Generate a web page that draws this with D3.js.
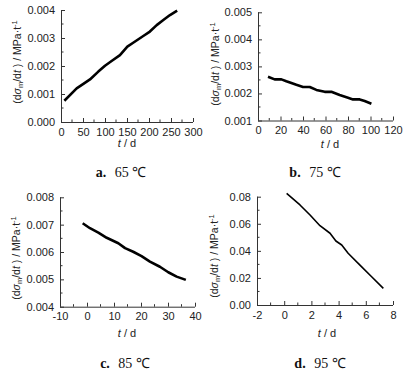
<!DOCTYPE html>
<html>
<head>
<meta charset="utf-8">
<script src="https://cdn.jsdelivr.net/npm/d3@7"></script>
<style>
  body { margin: 0; background: #fff; }
  svg { display: block; }
  .tick text { font-family: "Liberation Sans", Arial, sans-serif; font-size: 11px; fill: #222; }
</style>
</head>
<body>
<div id="chart"></div>
<script>
// values
var tA = [7.6, 35.6, 50.8, 65.9, 84.8, 100, 115, 134, 150.8, 164, 187, 202, 217.5, 232.6, 247.7, 264];
var vA = [0.00076, 0.0012, 0.00136, 0.00152, 0.0018, 0.00201, 0.00218, 0.00239, 0.00269, 0.00283, 0.00307, 0.00323, 0.00346, 0.00364, 0.00382, 0.00398];

var tB = [8.9, 14.8, 20.8, 25.2, 34.1, 40, 46, 51.9, 59.3, 65.2, 72.6, 80, 84.4, 90.4, 94.8, 100.8];
var vB = [0.00262, 0.00252, 0.00252, 0.00245, 0.00232, 0.00224, 0.00224, 0.00213, 0.00206, 0.00206, 0.00194, 0.00184, 0.00178, 0.00178, 0.00172, 0.00162];

var tC = [-1.6, 1.1, 4.2, 7.3, 11.6, 14.1, 17.1, 20.2, 23.3, 27, 30.1, 33.2, 36.6];
var vC = [0.00705, 0.00687, 0.00671, 0.00652, 0.00632, 0.00614, 0.00601, 0.00585, 0.00565, 0.00546, 0.00526, 0.0051, 0.00498];

var tD = [0.18, 1.16, 1.9, 2.63, 3.37, 3.8, 4.23, 4.7, 5.57, 6.43, 7.29];
var vD = [0.0825, 0.0739, 0.0665, 0.0586, 0.053, 0.0473, 0.0443, 0.0382, 0.0295, 0.0209, 0.0123];

var xTicksA = [0, 50, 100, 150, 200, 250, 300];
var yTicksA = [0, 0.001, 0.002, 0.003, 0.004];
var xTicksB = [0, 20, 40, 60, 80, 100, 120];
var yTicksB = [0.001, 0.002, 0.003, 0.004, 0.005];
var xTicksC = [-10, 0, 10, 20, 30, 40];
var yTicksC = [0.004, 0.005, 0.006, 0.007, 0.008];
var xTicksD = [-2, 0, 2, 4, 6, 8];
var yTicksD = [0, 0.02, 0.04, 0.06, 0.08];

var captions = ["a.", "b.", "c.", "d."];
var temps = ["65 ℃", "75 ℃", "85 ℃", "95 ℃"];

var svg = d3.select("#chart").append("svg")
  .attr("width", 408)
  .attr("height", 371);

// plain hyphen for negatives, like the original
function fmt(spec) {
  var f = d3.format(spec);
  return function(d) { return f(d).replace("\u2212", "-"); };
}

// one panel: axes box in pixels, data, ticks
function panel(o) {
  var x = d3.scaleLinear().domain([o.xTicks[0], o.xTicks[o.xTicks.length - 1]]).range([o.x0, o.x1]);
  var y = d3.scaleLinear().domain([o.yTicks[0], o.yTicks[o.yTicks.length - 1]]).range([o.y0, o.y1]);
  var g = svg.append("g");

  // minor ticks halfway between majors
  var xMinor = [], yMinor = [];
  var xs = (o.xTicks[1] - o.xTicks[0]) / 2, ys = (o.yTicks[1] - o.yTicks[0]) / 2;
  for (var i = 0; i < o.xTicks.length - 1; i++) xMinor.push(o.xTicks[i] + xs);
  for (var j = 0; j < o.yTicks.length - 1; j++) yMinor.push(o.yTicks[j] + ys);

  var xg = g.append("g").attr("transform", "translate(0," + o.y0 + ")")
    .call(d3.axisBottom(x).tickValues(o.xTicks).tickSize(-4).tickPadding(6).tickFormat(fmt("d")));
  xg.append("g").selectAll("line").data(xMinor).enter().append("line")
    .attr("x1", x).attr("x2", x).attr("y1", 0).attr("y2", -2.5).attr("stroke", "#333");

  var yg = g.append("g").attr("transform", "translate(" + o.x0 + ",0)")
    .call(d3.axisLeft(y).tickValues(o.yTicks).tickSize(-4).tickPadding(6).tickFormat(fmt(o.yFmt)));
  yg.append("g").selectAll("line").data(yMinor).enter().append("line")
    .attr("y1", y).attr("y2", y).attr("x1", 0).attr("x2", 2.5).attr("stroke", "#333");

  g.selectAll(".domain").attr("stroke", "#333");
  xg.select(".domain").attr("d", "M" + o.x0 + ",0.5H" + o.x1);
  yg.select(".domain").attr("d", "M0.5," + o.y0 + "V" + o.y1);
  g.selectAll(".tick line").attr("stroke", "#333");

  var line = d3.line()
    .x(function(d) { return x(d[0]); })
    .y(function(d) { return y(d[1]); });
  g.append("path")
    .datum(d3.zip(o.t, o.v))
    .attr("d", line)
    .attr("fill", "none")
    .attr("stroke", "#000")
    .attr("stroke-width", o.lw)
    .attr("stroke-linejoin", "round");

  // y title
  var yt = g.append("text")
    .attr("transform", "translate(" + o.ylx + "," + o.yly + ") rotate(-90)")
    .attr("text-anchor", "middle")
    .attr("font-family", "Liberation Sans, Arial, sans-serif")
    .attr("font-size", 10.5)
    .attr("fill", "#222");
  yt.append("tspan").text("(d");
  yt.append("tspan").attr("font-style", "italic").text("σ");
  yt.append("tspan").attr("font-size", 7.5).attr("dy", 2).text("m");
  yt.append("tspan").attr("dy", -2).text("/d");
  yt.append("tspan").attr("font-style", "italic").text("t");
  yt.append("tspan").text(" ) / MPa·t");
  yt.append("tspan").attr("font-size", 7.5).attr("dy", -4).text("-1");

  // x title
  var xt = g.append("text")
    .attr("x", o.xlx).attr("y", o.xly)
    .attr("text-anchor", "middle")
    .attr("font-family", "Liberation Sans, Arial, sans-serif")
    .attr("font-size", 11)
    .attr("fill", "#222");
  xt.append("tspan").attr("font-style", "italic").text("t");
  xt.append("tspan").text(" / d");

  // caption
  var ct = g.append("text")
    .attr("x", o.cx).attr("y", o.cy)
    .attr("text-anchor", "middle")
    .attr("font-family", "Liberation Serif, Times New Roman, serif")
    .attr("font-size", 14)
    .attr("fill", "#111");
  ct.append("tspan").attr("font-weight", "bold").text(o.cap);
  ct.append("tspan").attr("dx", 5).text(" " + o.temp);
}

panel({ t: tA, v: vA, xTicks: xTicksA, yTicks: yTicksA, yFmt: ".3f",
  x0: 61, x1: 193, y0: 122, y1: 10, lw: 2.6,
  ylx: 21, yly: 62, xlx: 127, xly: 147, cx: 121, cy: 177, cap: captions[0], temp: temps[0] });

panel({ t: tB, v: vB, xTicks: xTicksB, yTicks: yTicksB, yFmt: ".3f",
  x0: 258, x1: 393, y0: 120.5, y1: 12.3, lw: 2.6,
  ylx: 219, yly: 64, xlx: 330, xly: 148, cx: 315, cy: 177, cap: captions[1], temp: temps[1] });

panel({ t: tC, v: vC, xTicks: xTicksC, yTicks: yTicksC, yFmt: ".3f",
  x0: 60, x1: 195, y0: 306.7, y1: 197.3, lw: 2.6,
  ylx: 20, yly: 258, xlx: 127, xly: 337, cx: 125, cy: 368, cap: captions[2], temp: temps[2] });

panel({ t: tD, v: vD, xTicks: xTicksD, yTicks: yTicksD, yFmt: ".2f",
  x0: 257, x1: 393, y0: 305, y1: 196.7, lw: 1.6,
  ylx: 218, yly: 256, xlx: 327, xly: 337, cx: 320, cy: 368, cap: captions[3], temp: temps[3] });
</script>
</body>
</html>
